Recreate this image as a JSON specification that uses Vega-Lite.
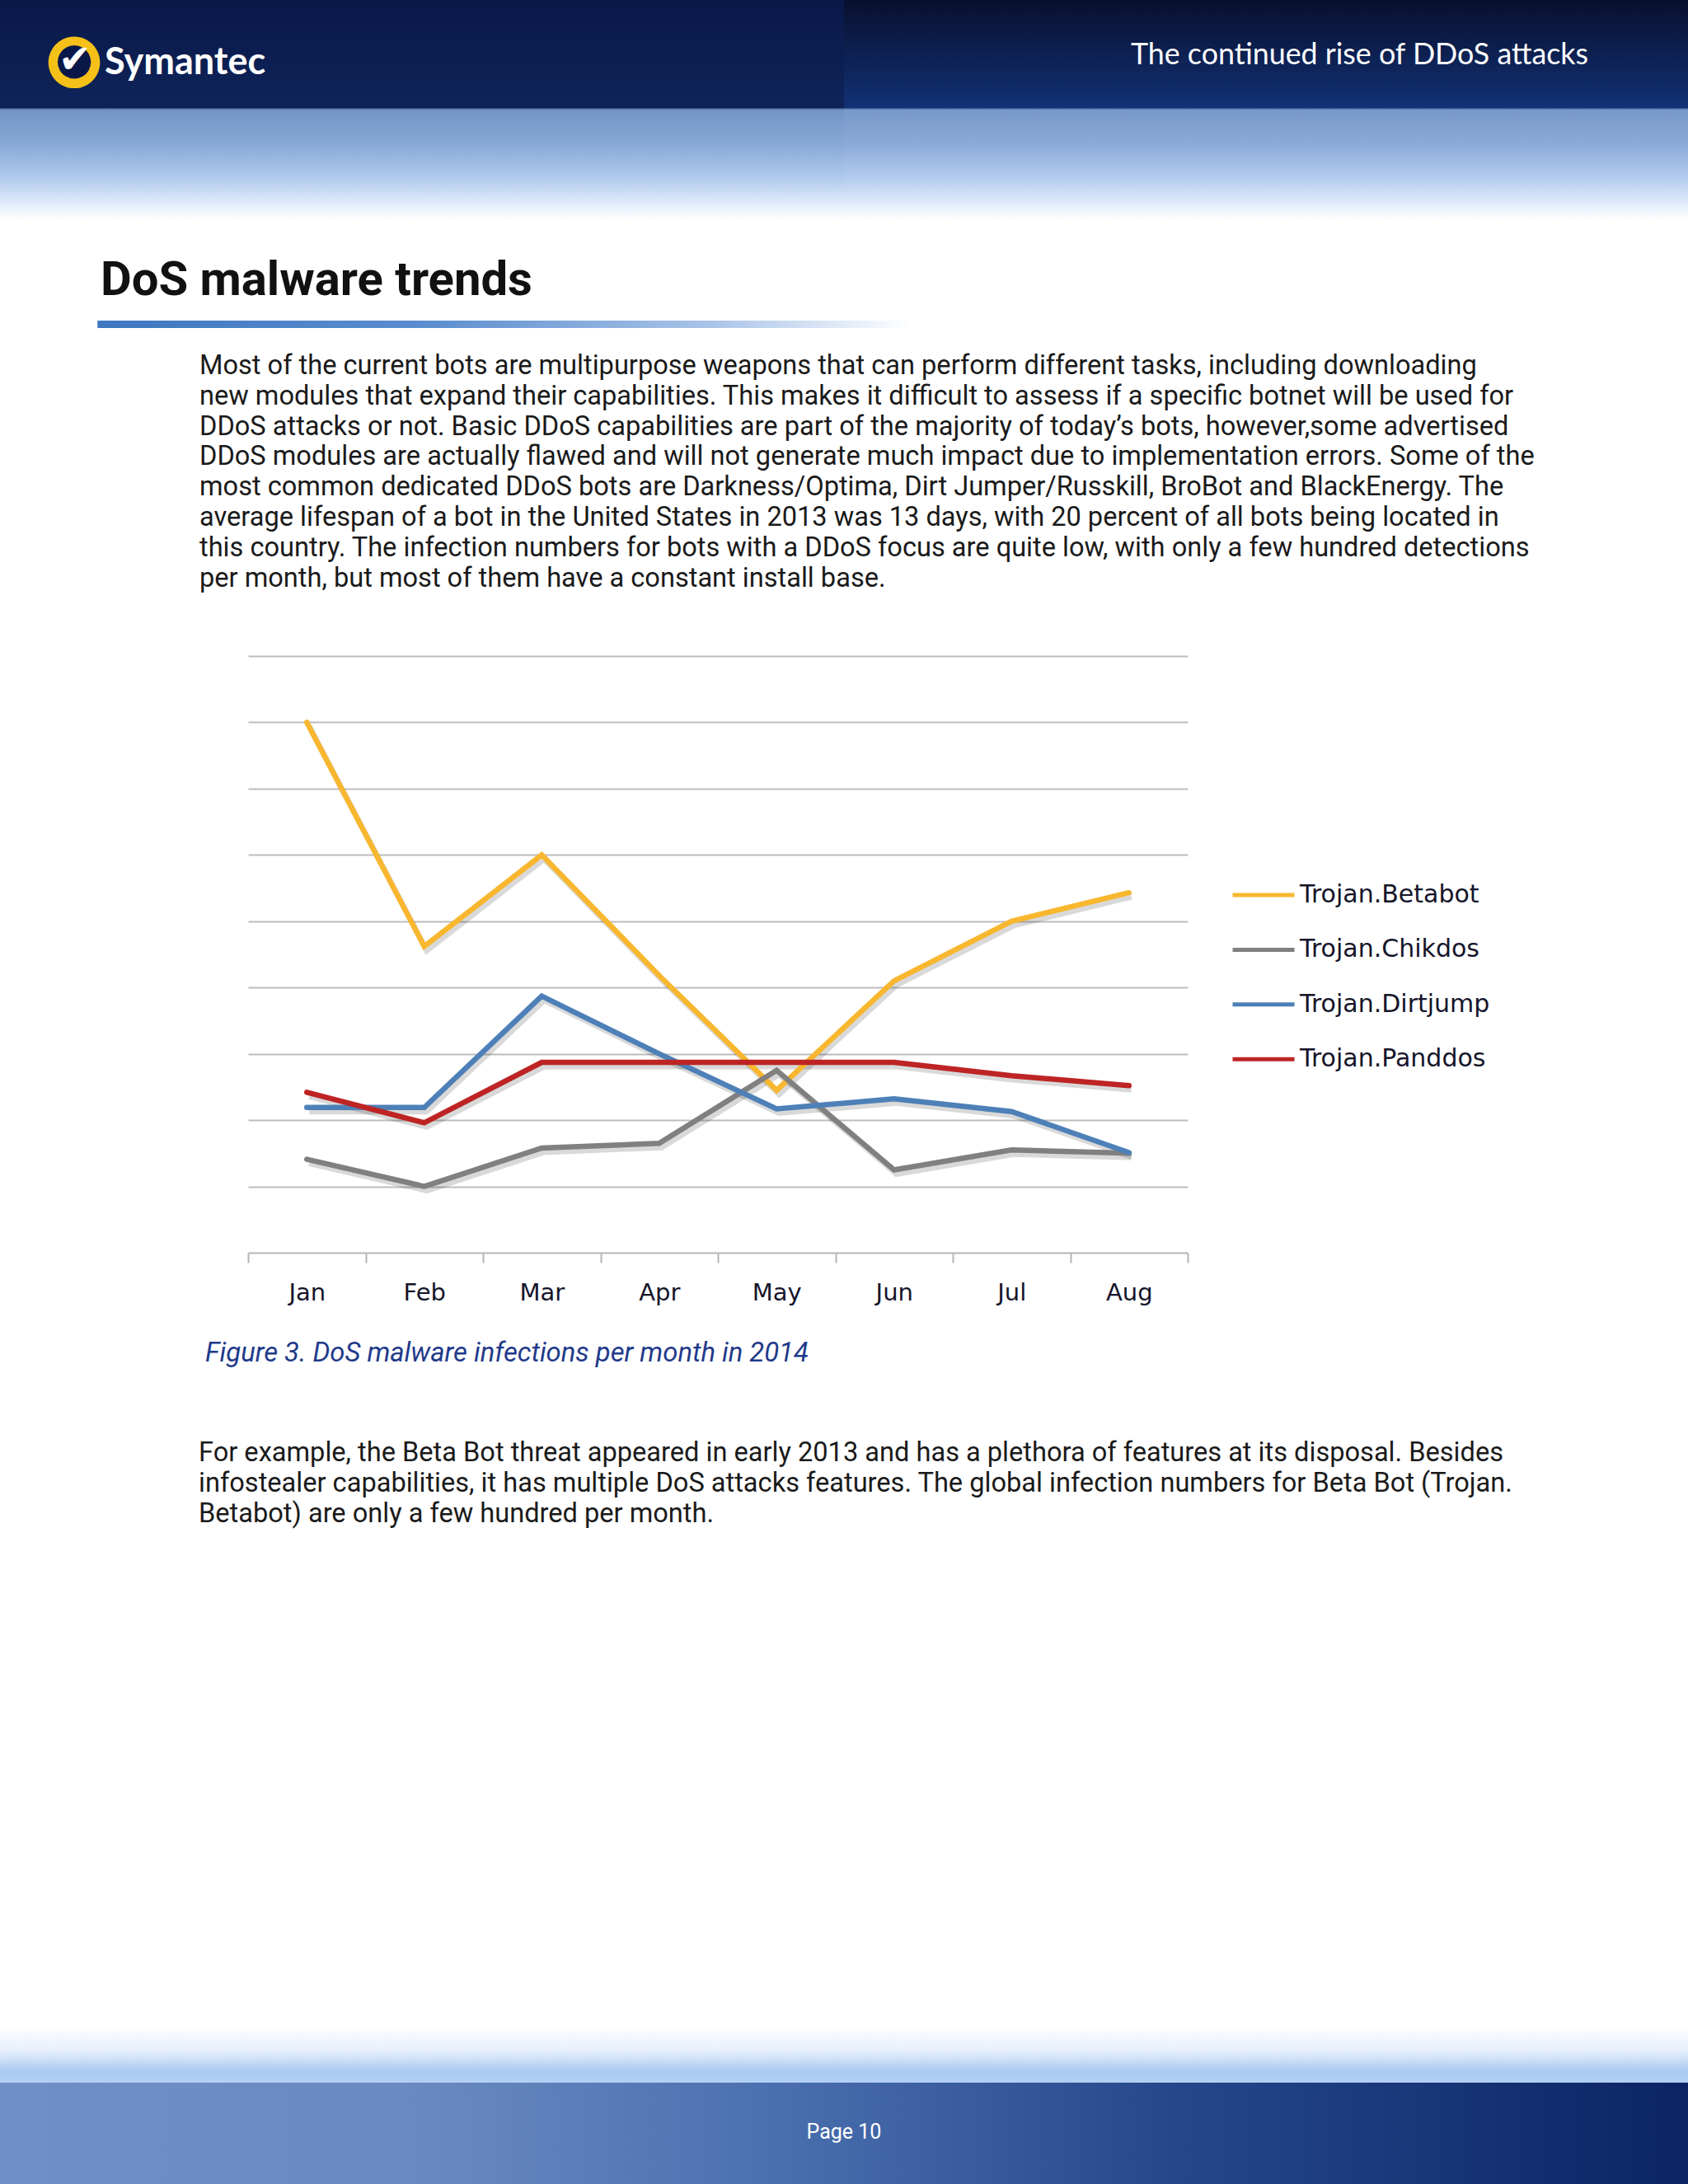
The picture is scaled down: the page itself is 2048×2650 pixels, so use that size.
{
  "$schema": "https://vega.github.io/schema/vega-lite/v6.json",
  "padding": 0,
  "background": "white",
  "bounds": "flush",
  "spacing": 0,
  "config": {
    "view": {"stroke": null},
    "title": {"font": "Roboto", "fontWeight": "normal", "orient": "bottom", "frame": "group", "anchor": "start", "offset": 0, "color": "#1a1a1a"}
  },
  "vconcat": [
    {
      "hconcat": [
        {
          "width": 180, "height": 389,
          "data": {"values": [{}]},
          "mark": {"type": "text", "text": ""},
          "view": {"fill": {"gradient": "linear", "x1": 0, "y1": 0, "x2": 0, "y2": 1, "stops": [{"offset": 0, "color": "#0a1849"}, {"offset": 0.336, "color": "#0e2459"}, {"offset": 0.342, "color": "#7294c5"}, {"offset": 0.45, "color": "#88a8d6"}, {"offset": 0.56, "color": "#b3ccee"}, {"offset": 0.65, "color": "#eaf2fc"}, {"offset": 0.69, "color": "#ffffff"}, {"offset": 1, "color": "#ffffff"}]}},
          "title": {"text": "●", "font": "DejaVu Sans", "fontSize": 82, "color": "#f5c018", "align": "center", "dx": 90, "offset": -357}
        },
        {
          "width": 180, "height": 389,
          "data": {"values": [{}]},
          "mark": {"type": "text", "text": ""},
          "view": {"fill": {"gradient": "linear", "x1": 0, "y1": 0, "x2": 0, "y2": 1, "stops": [{"offset": 0, "color": "#0a1849"}, {"offset": 0.336, "color": "#0e2459"}, {"offset": 0.342, "color": "#7294c5"}, {"offset": 0.45, "color": "#88a8d6"}, {"offset": 0.56, "color": "#b3ccee"}, {"offset": 0.65, "color": "#eaf2fc"}, {"offset": 0.69, "color": "#ffffff"}, {"offset": 1, "color": "#ffffff"}]}},
          "title": {"text": "●", "font": "DejaVu Sans", "fontSize": 53, "color": "#0a1849", "align": "center", "dx": -90, "offset": -342}
        },
        {
          "width": 300, "height": 389,
          "data": {"values": [{}]},
          "mark": {"type": "text", "text": ""},
          "view": {"fill": {"gradient": "linear", "x1": 0, "y1": 0, "x2": 0, "y2": 1, "stops": [{"offset": 0, "color": "#0a1849"}, {"offset": 0.336, "color": "#0e2459"}, {"offset": 0.342, "color": "#7294c5"}, {"offset": 0.45, "color": "#88a8d6"}, {"offset": 0.56, "color": "#b3ccee"}, {"offset": 0.65, "color": "#eaf2fc"}, {"offset": 0.69, "color": "#ffffff"}, {"offset": 1, "color": "#ffffff"}]}},
          "title": {"text": "✔", "font": "DejaVu Sans", "fontSize": 48, "color": "#ffffff", "align": "center", "dx": -269, "offset": -339}
        },
        {
          "width": 364, "height": 389,
          "data": {"values": [{}]},
          "mark": {"type": "text", "text": ""},
          "view": {"fill": {"gradient": "linear", "x1": 0, "y1": 0, "x2": 0, "y2": 1, "stops": [{"offset": 0, "color": "#0a1849"}, {"offset": 0.336, "color": "#0e2459"}, {"offset": 0.342, "color": "#7294c5"}, {"offset": 0.45, "color": "#88a8d6"}, {"offset": 0.56, "color": "#b3ccee"}, {"offset": 0.65, "color": "#eaf2fc"}, {"offset": 0.69, "color": "#ffffff"}, {"offset": 1, "color": "#ffffff"}]}},
          "title": {"text": "Symantec", "font": "Lato", "fontWeight": "bold", "fontSize": 45, "color": "#ffffff", "dx": -533, "offset": -335.5}
        },
        {
          "width": 1024, "height": 389,
          "data": {"values": [{}]},
          "mark": {"type": "text", "text": ""},
          "view": {"fill": {"gradient": "linear", "x1": 0, "y1": 0, "x2": 0, "y2": 1, "stops": [{"offset": 0, "color": "#08102e"}, {"offset": 0.336, "color": "#123175"}, {"offset": 0.342, "color": "#7898c9"}, {"offset": 0.45, "color": "#8caad8"}, {"offset": 0.56, "color": "#b5cdef"}, {"offset": 0.65, "color": "#eaf2fc"}, {"offset": 0.69, "color": "#ffffff"}, {"offset": 1, "color": "#ffffff"}]}},
          "title": {"text": "The continued rise of DDoS attacks", "font": "Lato", "fontSize": 35.8, "color": "#ffffff", "anchor": "end", "dx": -121, "offset": -338.6}
        }
      ],
      "spacing": 0,
      "bounds": "flush"
    },
    {
      "width": 2048, "height": 389,
      "data": {"values": [{}]},
      "mark": {"type": "text", "text": ""}
    },
    {
      "width": 2048, "height": 9,
      "data": {"values": [{}]},
      "mark": {"type": "text", "text": ""},
      "view": {"fill": {"gradient": "linear", "x1": 0, "y1": 0, "x2": 1, "y2": 0, "stops": [{"offset": 0, "color": "#ffffff"}, {"offset": 0.0575, "color": "#ffffff"}, {"offset": 0.058, "color": "#3d77c0"}, {"offset": 0.25, "color": "#5a8dcf"}, {"offset": 0.42, "color": "#a9c3e8"}, {"offset": 0.54, "color": "#ffffff"}, {"offset": 1, "color": "#ffffff"}]}},
      "title": {"text": "DoS malware trends", "fontSize": 58, "fontWeight": "bold", "color": "#111111", "dx": 122, "offset": -87}
    },
    {
      "width": 2048, "height": 398,
      "data": {"values": [{}]},
      "mark": {"type": "text", "text": ""},
      "title": {
        "text": [
          "Most of the current bots are multipurpose weapons that can perform different tasks, including downloading",
          "new modules that expand their capabilities. This makes it difficult to assess if a specific botnet will be used for",
          "DDoS attacks or not. Basic DDoS capabilities are part of the majority of today’s bots, however,some advertised",
          "DDoS modules are actually flawed and will not generate much impact due to implementation errors. Some of the",
          "most common dedicated DDoS bots are Darkness/Optima, Dirt Jumper/Russkill, BroBot and BlackEnergy. The",
          "average lifespan of a bot in the United States in 2013 was 13 days, with 20 percent of all bots being located in",
          "this country. The infection numbers for bots with a DDoS focus are quite low, with only a few hundred detections",
          "per month, but most of them have a constant install base."
        ],
        "fontSize": 32.6, "lineHeight": 36.8, "dx": 242, "offset": -368
      }
    },
    {
      "hconcat": [
        {
          "width": 301, "height": 724,
          "data": {"values": [{}]},
          "mark": {"type": "text", "text": ""},
          "title": {"text": "Figure 3. DoS malware infections per month in 2014", "fontSize": 32.8, "fontStyle": "italic", "color": "#1f3a8a", "dx": 249, "offset": 106}
        },
        {
          "width": 1140, "height": 724,
          "data": {"values": [
            {"month": "Jan", "series": "Trojan.Betabot", "value": 8.0},
            {"month": "Feb", "series": "Trojan.Betabot", "value": 4.62},
            {"month": "Mar", "series": "Trojan.Betabot", "value": 6.0},
            {"month": "Apr", "series": "Trojan.Betabot", "value": 4.18},
            {"month": "May", "series": "Trojan.Betabot", "value": 2.45},
            {"month": "Jun", "series": "Trojan.Betabot", "value": 4.1},
            {"month": "Jul", "series": "Trojan.Betabot", "value": 5.0},
            {"month": "Aug", "series": "Trojan.Betabot", "value": 5.43},
            {"month": "Jan", "series": "Trojan.Chikdos", "value": 1.41},
            {"month": "Feb", "series": "Trojan.Chikdos", "value": 1.0},
            {"month": "Mar", "series": "Trojan.Chikdos", "value": 1.58},
            {"month": "Apr", "series": "Trojan.Chikdos", "value": 1.65},
            {"month": "May", "series": "Trojan.Chikdos", "value": 2.75},
            {"month": "Jun", "series": "Trojan.Chikdos", "value": 1.25},
            {"month": "Jul", "series": "Trojan.Chikdos", "value": 1.55},
            {"month": "Aug", "series": "Trojan.Chikdos", "value": 1.5},
            {"month": "Jan", "series": "Trojan.Dirtjump", "value": 2.19},
            {"month": "Feb", "series": "Trojan.Dirtjump", "value": 2.19},
            {"month": "Mar", "series": "Trojan.Dirtjump", "value": 3.87},
            {"month": "Apr", "series": "Trojan.Dirtjump", "value": 3.0},
            {"month": "May", "series": "Trojan.Dirtjump", "value": 2.17},
            {"month": "Jun", "series": "Trojan.Dirtjump", "value": 2.32},
            {"month": "Jul", "series": "Trojan.Dirtjump", "value": 2.13},
            {"month": "Aug", "series": "Trojan.Dirtjump", "value": 1.51},
            {"month": "Jan", "series": "Trojan.Panddos", "value": 2.42},
            {"month": "Feb", "series": "Trojan.Panddos", "value": 1.96},
            {"month": "Mar", "series": "Trojan.Panddos", "value": 2.87},
            {"month": "Apr", "series": "Trojan.Panddos", "value": 2.87},
            {"month": "May", "series": "Trojan.Panddos", "value": 2.87},
            {"month": "Jun", "series": "Trojan.Panddos", "value": 2.87},
            {"month": "Jul", "series": "Trojan.Panddos", "value": 2.67},
            {"month": "Aug", "series": "Trojan.Panddos", "value": 2.52}
          ]},
          "encoding": {
            "x": {
              "field": "month", "type": "ordinal",
              "sort": ["Jan", "Feb", "Mar", "Apr", "May", "Jun", "Jul", "Aug"],
              "scale": {"type": "band", "paddingInner": 0, "paddingOuter": 0},
              "bandPosition": 0.5,
              "axis": {"title": null, "grid": false, "domainColor": "#b5b5b5", "domainWidth": 2, "tickColor": "#b5b5b5", "tickWidth": 2, "tickSize": 12, "tickBand": "extent", "labelFont": "DejaVu Sans", "labelFontSize": 29, "labelColor": "#15152a", "labelPadding": 22, "labelAngle": 0}
            },
            "y": {
              "field": "value", "type": "quantitative",
              "scale": {"domain": [0, 9], "nice": false, "zero": true},
              "axis": {"title": null, "domain": false, "ticks": false, "labels": false, "grid": true, "gridColor": "#bdbdbd", "gridWidth": 1.8, "values": [1, 2, 3, 4, 5, 6, 7, 8, 9]}
            }
          },
          "layer": [
            {
              "mark": {"type": "line", "stroke": "#000000", "opacity": 0.15, "strokeWidth": 7, "xOffset": 3, "yOffset": 5},
              "encoding": {"detail": {"field": "series", "type": "nominal"}}
            },
            {
              "mark": {"type": "line", "strokeWidth": 6.5, "strokeCap": "round"},
              "encoding": {
                "color": {
                  "field": "series", "type": "nominal",
                  "scale": {"domain": ["Trojan.Betabot", "Trojan.Chikdos", "Trojan.Dirtjump", "Trojan.Panddos"], "range": ["#f8b72f", "#808080", "#4e80b8", "#be2424"]},
                  "legend": {"title": null, "orient": "none", "legendX": 1493, "legendY": 1071, "symbolType": "stroke", "symbolSize": 5625, "symbolStrokeWidth": 5, "clipHeight": 30, "rowPadding": 36.4, "padding": 0, "labelFont": "DejaVu Sans", "labelFontSize": 30, "labelColor": "#15152a", "labelOffset": 4, "labelLimit": 600}
                }
              }
            }
          ]
        }
      ],
      "spacing": 0,
      "bounds": "flush"
    },
    {
      "width": 2048, "height": 724,
      "data": {"values": [{}]},
      "mark": {"type": "text", "text": ""}
    },
    {
      "width": 2048, "height": 937,
      "data": {"values": [{}]},
      "mark": {"type": "text", "text": ""},
      "title": {
        "text": [
          "For example, the Beta Bot threat appeared in early 2013 and has a plethora of features at its disposal. Besides",
          "infostealer capabilities, it has multiple DoS attacks features. The global infection numbers for Beta Bot (Trojan.",
          "Betabot) are only a few hundred per month."
        ],
        "fontSize": 32.6, "lineHeight": 37, "dx": 241, "offset": -710
      }
    },
    {
      "width": 2048, "height": 70,
      "data": {"values": [{}]},
      "mark": {"type": "text", "text": ""},
      "view": {"fill": {"gradient": "linear", "x1": 0, "y1": 0, "x2": 0, "y2": 1, "stops": [{"offset": 0, "color": "#ffffff"}, {"offset": 0.45, "color": "#e6effc"}, {"offset": 0.8, "color": "#aacbf2"}, {"offset": 1, "color": "#b4d0f4"}]}}
    },
    {
      "width": 2048, "height": 123,
      "data": {"values": [{}]},
      "mark": {"type": "text", "text": ""},
      "view": {"fill": {"gradient": "linear", "x1": 0, "y1": 0, "x2": 1, "y2": 0, "stops": [{"offset": 0, "color": "#6f90c6"}, {"offset": 0.25, "color": "#6989c0"}, {"offset": 0.45, "color": "#4c71b0"}, {"offset": 0.7, "color": "#24478c"}, {"offset": 1, "color": "#0c2463"}]}},
      "title": {"text": "Page 10", "fontSize": 25, "color": "#ffffff", "anchor": "middle", "offset": -75}
    }
  ]
}
